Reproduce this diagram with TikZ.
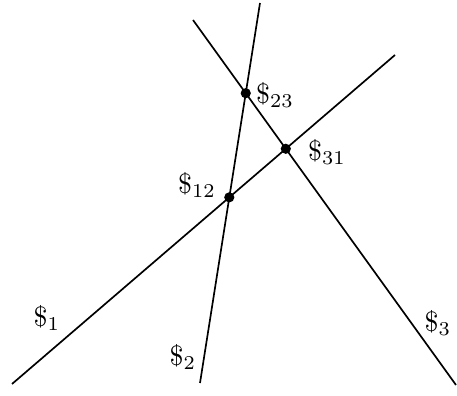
\documentclass[tikz,border=0pt]{standalone}
\usetikzlibrary{intersections}
\begin{document}
\begin{tikzpicture}[x=0.357pt,y=-0.357pt]
    \useasboundingbox (0,0) rectangle (457,396);

    % End points of the lines
    \coordinate (s1) at (12,384);
    \coordinate (e1) at (395,55);
    \coordinate (s2) at (200,383);
    \coordinate (e2) at (260,3);
    \coordinate (s3) at (193,20);
    \coordinate (e3) at (456,385);

    % Lines
    \draw[semithick,name path=line1] (s1) -- (e1);
    \draw[semithick,name path=line2] (s2) -- (e2);
    \draw[semithick,name path=line3] (s3) -- (e3);

    % Intersection points
    \path[name intersections={of=line1 and line2,by=p12}];
    \path[name intersections={of=line2 and line3,by=p23}];
    \path[name intersections={of=line3 and line1,by=p31}];
    \filldraw (p12) circle (1.6pt);
    \filldraw (p23) circle (1.6pt);
    \filldraw (p31) circle (1.6pt);

    % Labels
    \node (lab1) at (47,318) {$\$_1$};
    \node (lab2) at (183,357) {$\$_2$};
    \node (lab3) at (438,323) {$\$_3$};
    \node (lab12) at (197,185) {$\$_{12}$};
    \node (lab23) at (275,95) {$\$_{23}$};
    \node (lab31) at (327,152) {$\$_{31}$};
\end{tikzpicture}
\end{document}
